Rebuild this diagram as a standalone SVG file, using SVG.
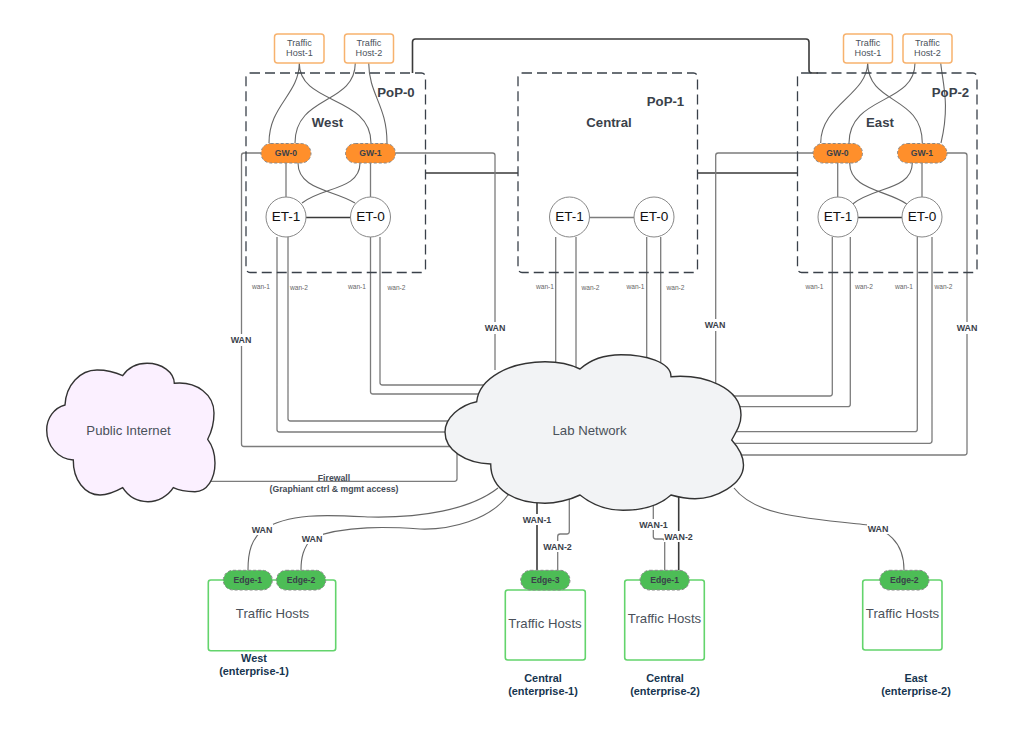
<svg xmlns="http://www.w3.org/2000/svg" width="1024" height="735" viewBox="0 0 1024 735">
<style>
text{font-family:"Liberation Sans",Arial,sans-serif;text-anchor:middle;dominant-baseline:central;fill:#3a414a}
.c{fill:none;stroke:#7c7c7c;stroke-width:1.3}
.cm{fill:none;stroke:#666;stroke-width:1.1}
.d{fill:none;stroke:#3a3a3a;stroke-width:1.6}
.pop{fill:none;stroke:#3a414a;stroke-width:1.3;stroke-dasharray:10 5}
.host{fill:#fff;stroke:#f7b26e;stroke-width:1.5}
.gw{fill:#ff8f2b;stroke:#888;stroke-width:1;stroke-dasharray:3 2}
.edge{fill:#4dbd56;stroke:#888;stroke-width:1;stroke-dasharray:3 2}
.box{fill:#fff;stroke:#63d46c;stroke-width:1.6}
.et{fill:#fff;stroke:#888;stroke-width:1}
.cloud{stroke:#333;stroke-width:1.4}
.bg{fill:#fff}
.wan{font-size:6.6px;fill:#666}
.lb{font-size:8.9px;font-weight:bold}
.pl{font-size:13.2px;font-weight:bold}
.tl{font-size:9.1px;fill:#4a515a}
.n{font-size:8.6px;font-weight:bold}
.e{font-size:13.6px;fill:#111}
.big{font-size:13.2px;fill:#4a515a}
.en{font-size:10.9px;font-weight:bold;fill:#16354f}
</style>
<g id="connectors">
<path class="d" d="M412.5 73V42Q412.5 39 415.500 39H806Q809 39 809 42V70Q809 73 812 73H818"/>
<path class="d" d="M425.500 173H518M697.500 173H797.500"/>
<path class="cm" d="M299.300 63C299 95 269 105 269 143M299.300 63C299 105 371 95 371 143M355.300 63C355 105 295 95 295 143M368.700 63C369 95 387 105 387 143"/>
<path class="cm" d="M867.700 63C867 95 820.700 105 820.700 143M867.700 63C868 105 922.300 95 922.300 143M915 63C915 105 849 95 849 143M940.700 63C943 85 950 105 941 143"/>
<path class="c" d="M286 163V197M370.500 163V197M837.700 163V197M922 163V197"/>
<path class="cm" d="M298 163C298 190 335 190 355 203M360 163C360 190 322 187 302 203M849.700 163C849.700 190 887 190 906.700 204M912.300 163C912.300 190 873 187 852.700 204"/>
<path class="d" d="M306 217.500H350.500M858 217.500H902"/>
<path class="c" d="M589 217.500H634"/>
<path class="c" d="M261 153H244Q241.500 153 241.500 155.500V444Q241.500 446.500 244 446.500H460"/>
<path class="c" d="M395.500 153H492.500Q495 153 495 155.500V370"/>
<path class="c" d="M277 237V429.500Q277 432 279.500 432H460M288 237V418.500Q288 421 290.500 421H460M370.500 237V391.500Q370.500 394 373 394H490M380 237V382.500Q380 385 382.500 385H490"/>
<path class="c" d="M555.700 237V370M576 237V370M646.700 237V370M660.700 237V370"/>
<path class="c" d="M813 153H718.200Q715.700 153 715.700 155.500V385"/>
<path class="c" d="M947 153H964.500Q967 153 967 155.500V452.500Q967 455 964.500 455H730"/>
<path class="c" d="M832.300 237V393.500Q832.300 396 829.800 396H725M850.300 237V404.200Q850.300 406.700 847.800 406.700H725M917.300 237V429.200Q917.300 431.700 914.800 431.700H725M932 237V440.800Q932 443.300 929.500 443.300H725"/>
<path class="c" d="M211 481.300H454.500Q457 481.300 457 478.800V450"/>
<path class="cm" d="M498 488C470 510 420 518 370 517C330 515 290 512 262 530C252 540 248 550 248 570"/>
<path class="cm" d="M508 495C490 520 450 530 420 529C390 527 345 525 312 538C303 548 301 558 301 570"/>
<path class="cm" d="M734 488C755 515 800 518 868 525C885 530 904 540 904 570"/>
<path class="d" d="M537 500V570M678.700 495V570"/>
<path class="c" d="M569.300 495V531.500Q569.300 534 566.800 534H560.200Q557.700 534 557.700 536.500V570"/>
<path class="c" d="M653.300 500V536.500Q653.300 539 655.800 539H662.200Q664.700 539 664.700 541.500V570"/>
<g id="connector-labels">
<rect class="bg" x="229" y="334" width="24" height="12"/><text class="lb" x="241" y="340">WAN</text>
<rect class="bg" x="483" y="322" width="24" height="12"/><text class="lb" x="495" y="328">WAN</text>
<rect class="bg" x="703" y="319" width="24" height="12"/><text class="lb" x="715" y="325">WAN</text>
<rect class="bg" x="955" y="322" width="24" height="12"/><text class="lb" x="967" y="328">WAN</text>
<rect class="bg" x="251" y="524" width="22" height="11"/><text class="lb" x="262" y="529.500">WAN</text>
<rect class="bg" x="301" y="533" width="22" height="11"/><text class="lb" x="312" y="538.500">WAN</text>
<rect class="bg" x="867" y="523" width="22" height="11"/><text class="lb" x="878" y="528.500">WAN</text>
<rect class="bg" x="522" y="514" width="30" height="11"/><text class="lb" x="537" y="519.500">WAN-1</text>
<rect class="bg" x="543" y="541" width="30" height="11"/><text class="lb" x="557.500" y="546.500">WAN-2</text>
<rect class="bg" x="639" y="519" width="30" height="11"/><text class="lb" x="653.500" y="524.500">WAN-1</text>
<rect class="bg" x="664" y="531" width="30" height="11"/><text class="lb" x="678.500" y="536.500">WAN-2</text>
<text class="wan" x="261" y="286">wan-1</text><text class="wan" x="299" y="287.500">wan-2</text><text class="wan" x="357" y="286">wan-1</text><text class="wan" x="396.500" y="287.500">wan-2</text>
<text class="wan" x="545" y="286">wan-1</text><text class="wan" x="590.500" y="287.500">wan-2</text><text class="wan" x="635.500" y="286">wan-1</text><text class="wan" x="675.500" y="287.500">wan-2</text>
<text class="wan" x="814.500" y="286">wan-1</text><text class="wan" x="864" y="286">wan-2</text><text class="wan" x="904" y="286">wan-1</text><text class="wan" x="943.500" y="286">wan-2</text>
<text class="lb" x="334" y="478" style="font-size:8.7px;fill:#444b55">Firewall</text>
<text class="lb" x="334" y="488.500" style="font-size:8.7px;fill:#444b55">(Graphiant ctrl &amp; mgmt access)</text>
</g>
</g>
<g id="pop-0"><rect class="pop" x="246" y="73" width="179.500" height="199.500" rx="4"/><text class="pl" x="396" y="92">PoP-0</text><text class="pl" x="327.500" y="122">West</text></g>
<g id="pop-1"><rect class="pop" x="518" y="73" width="179.500" height="199.500" rx="4"/><text class="pl" x="665.500" y="101">PoP-1</text><text class="pl" x="609" y="122">Central</text></g>
<g id="pop-2"><rect class="pop" x="797.500" y="73" width="179.500" height="199.500" rx="4"/><text class="pl" x="950.500" y="92">PoP-2</text><text class="pl" x="880" y="122">East</text></g>
<g id="west-host-1"><rect class="host" x="274.500" y="34" width="49.500" height="29" rx="3"/><text class="tl" x="299.500" y="42.500">Traffic</text><text class="tl" x="299.500" y="53">Host-1</text></g>
<g id="west-host-2"><rect class="host" x="344.500" y="34" width="49" height="29" rx="3"/><text class="tl" x="369" y="42.500">Traffic</text><text class="tl" x="369" y="53">Host-2</text></g>
<g id="east-host-1"><rect class="host" x="843.500" y="34" width="49" height="29" rx="3"/><text class="tl" x="868" y="42.500">Traffic</text><text class="tl" x="868" y="53">Host-1</text></g>
<g id="east-host-2"><rect class="host" x="903" y="34" width="49" height="29" rx="3"/><text class="tl" x="927.500" y="42.500">Traffic</text><text class="tl" x="927.500" y="53">Host-2</text></g>
<g id="west-gw-0"><rect class="gw" x="261" y="143.500" width="50" height="19.500" rx="9.700"/><text class="n" x="286" y="152.500">GW-0</text></g>
<g id="west-gw-1"><rect class="gw" x="345.500" y="143.500" width="50" height="19.500" rx="9.700"/><text class="n" x="370.500" y="152.500">GW-1</text></g>
<g id="east-gw-0"><rect class="gw" x="813" y="143.500" width="49.500" height="19.500" rx="9.700"/><text class="n" x="837.500" y="152.500">GW-0</text></g>
<g id="east-gw-1"><rect class="gw" x="897.500" y="143.500" width="49.500" height="19.500" rx="9.700"/><text class="n" x="922" y="152.500">GW-1</text></g>
<g id="west-et-1"><circle class="et" cx="286" cy="217" r="20"/><text class="e" x="286" y="216.500">ET-1</text></g>
<g id="west-et-0"><circle class="et" cx="370.500" cy="217" r="20"/><text class="e" x="370.500" y="216.500">ET-0</text></g>
<g id="central-et-1"><circle class="et" cx="569.500" cy="217" r="20"/><text class="e" x="569.500" y="216.500">ET-1</text></g>
<g id="central-et-0"><circle class="et" cx="654" cy="217" r="20"/><text class="e" x="654" y="216.500">ET-0</text></g>
<g id="east-et-1"><circle class="et" cx="838" cy="217" r="20"/><text class="e" x="838" y="216.500">ET-1</text></g>
<g id="east-et-0"><circle class="et" cx="922" cy="217" r="20"/><text class="e" x="922" y="216.500">ET-0</text></g>
<g id="lab-network"><path class="cloud" fill="#f2f3f5" d="M476.700 401.700C479 378 510 361.700 545 361.700C560 361.700 572 365 580 369C590 360 605 354.700 621 354.700C645 354.700 671 362 671 376.700C705 374 741 388 741 415C741 425 736 432 731.700 440C738 447 743.500 455 743.500 465C743.500 485 715 498.700 695 498.700C687 498.700 678 497 671 495C660 505 645 510.300 623 510.300C605 510.300 590 503 580 495C570 500 555 503.300 545 503.300C515 503.300 490.700 490 490.700 464C465 463 445 450 445 432C445 418 460 405 476.700 401.700Z"/><text class="big" x="589.500" y="430.500">Lab Network</text></g>
<g id="public-internet"><path class="cloud" fill="#fbf0ff" d="M65 405C66 385 80 370 97 370C105 370 115 372 122.700 375.700C128 368 137 363.300 147 363.300C162 363.300 174 372 174.300 383.300C197 381 214 395 214 413C214 423 212 431 207.700 439.300C212 445 215 454 215 463C215 479 207 491.700 195 491.700C187 491.700 180 491 173.300 487.700C168 496 158 501.700 148 501.700C137 501.700 128 496 122.700 487.700C115 492 108 495 100 495C85 495 73 480 73.300 460C58 459 46.700 446 46.700 430C46.700 418 54 408 65 405Z"/><text class="big" x="128.500" y="430.500">Public Internet</text></g>
<g id="west-enterprise-1"><rect class="box" x="208.300" y="580" width="127.400" height="70.700" rx="2.500"/><text class="big" x="272.500" y="613">Traffic Hosts</text><text class="en" x="254" y="658">West</text><text class="en" x="254" y="671">(enterprise-1)</text></g>
<g id="west-edge-1"><rect class="edge" x="223.300" y="570.300" width="49" height="19.700" rx="9.800"/><text class="n" x="247.800" y="579.500">Edge-1</text></g>
<g id="west-edge-2"><rect class="edge" x="276.300" y="570.300" width="49.400" height="19.700" rx="9.800"/><text class="n" x="301" y="579.500">Edge-2</text></g>
<g id="central-enterprise-1"><rect class="box" x="505.300" y="590" width="80" height="70" rx="2.500"/><text class="big" x="545" y="623">Traffic Hosts</text><text class="en" x="543" y="678">Central</text><text class="en" x="543" y="691">(enterprise-1)</text></g>
<g id="central-edge-3"><rect class="edge" x="520.700" y="570.300" width="49.300" height="19.700" rx="9.800"/><text class="n" x="545.300" y="579.500">Edge-3</text></g>
<g id="central-enterprise-2"><rect class="box" x="624.700" y="580" width="79.600" height="80" rx="2.500"/><text class="big" x="664.500" y="618">Traffic Hosts</text><text class="en" x="665" y="678">Central</text><text class="en" x="665" y="691">(enterprise-2)</text></g>
<g id="central-edge-1"><rect class="edge" x="640" y="570.300" width="49.300" height="19.700" rx="9.800"/><text class="n" x="664.600" y="579.500">Edge-1</text></g>
<g id="east-enterprise-2"><rect class="box" x="862.700" y="580" width="79.300" height="70" rx="2.500"/><text class="big" x="902.500" y="613">Traffic Hosts</text><text class="en" x="916" y="678">East</text><text class="en" x="916" y="691">(enterprise-2)</text></g>
<g id="east-edge-2"><rect class="edge" x="879.700" y="570.300" width="49.300" height="19.700" rx="9.800"/><text class="n" x="904.300" y="579.500">Edge-2</text></g>
</svg>
